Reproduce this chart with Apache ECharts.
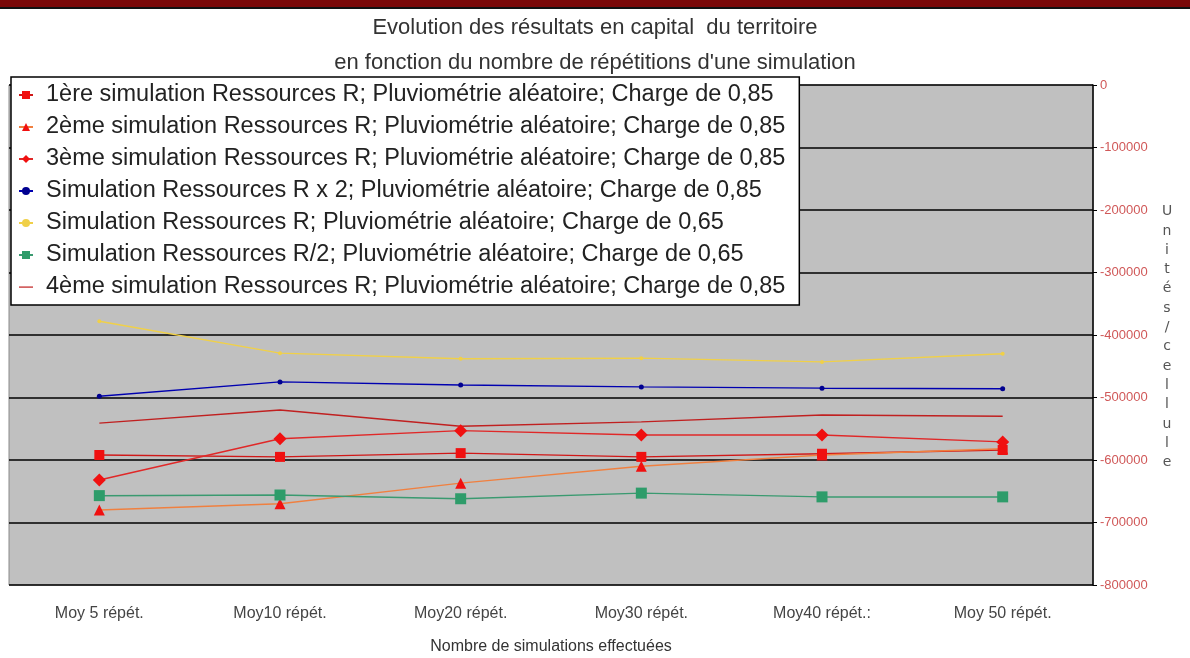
<!DOCTYPE html>
<html><head><meta charset="utf-8">
<script src="https://cdn.jsdelivr.net/npm/echarts@6/dist/echarts.min.js"></script>
<style>html,body{margin:0;padding:0;background:#fff}#c{width:1190px;height:658px}</style>
</head><body><div id="c"></div>
<script>
const categories = ['Moy 5 répét.', 'Moy10 répét.', 'Moy20 répét.', 'Moy30 répét.', 'Moy40 répét.:', 'Moy 50 répét.'];
const seriesNames = [
  '1ère simulation Ressources R; Pluviométrie aléatoire; Charge de 0,85',
  '2ème simulation Ressources R; Pluviométrie aléatoire; Charge de 0,85',
  '3ème simulation Ressources R; Pluviométrie aléatoire; Charge de 0,85',
  'Simulation Ressources R x 2; Pluviométrie aléatoire; Charge de 0,85',
  'Simulation Ressources R; Pluviométrie aléatoire; Charge de 0,65',
  'Simulation Ressources R/2; Pluviométrie aléatoire; Charge de 0,65',
  '4ème simulation Ressources R; Pluviométrie aléatoire; Charge de 0,85'
];
const sim1 = [-592000, -595000, -589000, -595000, -590000, -584000];
const sim2 = [-680000, -670000, -637000, -610000, -592000, -582000];
const sim3 = [-632000, -566000, -553000, -560000, -560000, -571000];
const simRx2 = [-498000, -475000, -480000, -483000, -485000, -486000];
const simR065 = [-378000, -429000, -438000, -437000, -443000, -430000];
const simR2 = [-657000, -656000, -662000, -653000, -659000, -659000];
const sim4 = [-541000, -520000, -546000, -539000, -528000, -530000];
const yTicks = { min: -800000, max: 0, interval: 100000 };
const yAxisTitle = 'Unités/cellule';
const xAxisTitle = 'Nombre de simulations effectuées';

const chart = echarts.init(document.getElementById('c'));
const mk = (name, data, color, lineColor, symbol, size) => ({
  name, type: 'line', data, symbol, symbolSize: size,
  itemStyle: { color }, lineStyle: { color: lineColor, width: 1.5 },
  emphasis: { disabled: true }
});
const legendData = seriesNames.map((n, i) => i === 6
  ? { name: n, icon: 'path://M0,0 M0,4.4 L16,4.4 L16,5.8 L0,5.8 Z M16,10' }
  : { name: n });
chart.setOption({
  animation: false,
  backgroundColor: '#fff',
  title: {
    text: 'Evolution des résultats en capital  du territoire\nen fonction du nombre de répétitions d\'une simulation',
    left: 'center', top: 5,
    textStyle: { fontFamily: 'Liberation Sans', fontSize: 22, fontWeight: 'normal', color: '#333', lineHeight: 35 }
  },
  grid: { left: 9, right: 97, top: 85, bottom: 73, outerBoundsMode: 'none', containLabel: false, show: true, backgroundColor: '#C0C0C0', borderColor: '#8a8a8a', borderWidth: 1 },
  legend: {
    orient: 'vertical', left: 11, top: 77, z: 10,
    backgroundColor: '#fff', borderColor: '#000', borderWidth: 1.5,
    padding: [6, 14, 6, 7], itemGap: 8, itemWidth: 14, itemHeight: 10,
    textStyle: { fontFamily: 'Liberation Sans', fontSize: 23.5, color: '#222', lineHeight: 24, padding: [0, 0, 0, 8] },
    data: legendData
  },
  xAxis: {
    type: 'category', data: categories, boundaryGap: true,
    name: xAxisTitle, nameLocation: 'middle', nameGap: 54,
    nameTextStyle: { fontFamily: 'Liberation Sans', fontSize: 16, color: '#333' },
    axisLine: { show: false }, axisTick: { show: false },
    axisLabel: { fontFamily: 'Liberation Sans', fontSize: 16, color: '#444', margin: 21 }
  },
  yAxis: {
    type: 'value', position: 'right', min: yTicks.min, max: yTicks.max, interval: yTicks.interval,
    axisLine: { show: true, lineStyle: { color: '#000', width: 1.5 } },
    axisTick: { show: true, inside: false, length: 4, lineStyle: { color: '#000' } },
    axisLabel: { fontFamily: 'Liberation Sans', fontSize: 13, color: '#D05858', margin: 7, formatter: v => String(v) },
    splitLine: { show: true, lineStyle: { color: '#000', width: 1.5 } }
  },
  graphic: [
    { type: 'rect', left: 0, top: 0, shape: { width: 1190, height: 7 }, style: { fill: '#7a0808' } },
    { type: 'rect', left: 0, top: 7, shape: { width: 1190, height: 2 }, style: { fill: '#111' } },
    { type: 'text', x: 1167, y: 202, style: { text: yAxisTitle.split('').join('\n'), fontFamily: 'DejaVu Sans', fontSize: 14, lineHeight: 19.3, fill: '#555', align: 'center', verticalAlign: 'top' } }
  ],
  series: [
    mk(seriesNames[0], sim1, '#F01010', '#D01818', 'rect', 10),
    mk(seriesNames[1], sim2, '#F01010', '#F08040', 'triangle', 11),
    mk(seriesNames[2], sim3, '#F01010', '#E02828', 'diamond', 13),
    mk(seriesNames[3], simRx2, '#000090', '#0000B0', 'circle', 5),
    mk(seriesNames[4], simR065, '#F0D048', '#F0D048', 'circle', 4),
    mk(seriesNames[5], simR2, '#2E9C6A', '#3A9A70', 'rect', 11),
    mk(seriesNames[6], sim4, '#C02020', '#C02020', 'none', 4)
  ]
});
</script></body></html>
